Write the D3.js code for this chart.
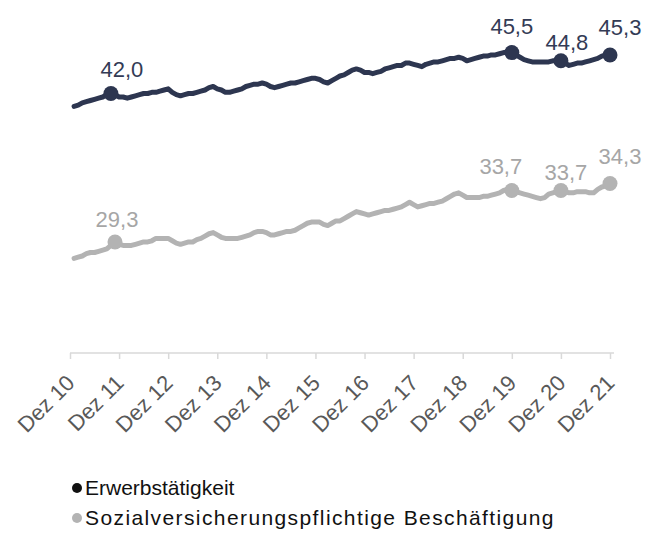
<!DOCTYPE html>
<html>
<head>
<meta charset="utf-8">
<script src="https://cdn.jsdelivr.net/npm/d3@7"></script>
<style>
  body { margin: 0; background: #fff; }
  svg { display: block; font-family: "Liberation Sans", Arial, sans-serif; }
</style>
</head>
<body>
<svg width="654" height="533"></svg>
<script>
// monthly values Jan 11 .. Dez 21 (in Mio.)
const erwerb = [
  40.9, 41.0, 41.2, 41.3, 41.4, 41.5, 41.6, 41.7, 41.9, 42.0, 41.9, 41.7,
  41.7, 41.6, 41.7, 41.8, 41.9, 42.0, 42.0, 42.1, 42.1, 42.2, 42.3, 42.4,
  42.1, 41.9, 41.8, 41.9, 42.0, 42.0, 42.1, 42.2, 42.3, 42.5, 42.6, 42.4,
  42.3, 42.1, 42.1, 42.2, 42.3, 42.4, 42.6, 42.7, 42.8, 42.8, 42.9, 42.8,
  42.6, 42.5, 42.6, 42.7, 42.8, 42.9, 42.9, 43.0, 43.1, 43.2, 43.3, 43.3,
  43.2, 43.0, 42.9, 43.1, 43.3, 43.5, 43.6, 43.8, 44.0, 44.1, 44.0, 43.8,
  43.8, 43.7, 43.8, 43.9, 44.1, 44.2, 44.3, 44.4, 44.4, 44.6, 44.6, 44.5,
  44.4, 44.3, 44.5, 44.6, 44.7, 44.7, 44.8, 44.9, 45.0, 45.0, 45.1, 45.0,
  44.8, 44.9, 45.0, 45.1, 45.2, 45.2, 45.3, 45.3, 45.4, 45.5, 45.5, 45.5,
  45.3, 45.1, 44.9, 44.8, 44.7, 44.7, 44.7, 44.7, 44.7, 44.8, 44.8, 44.8,
  44.6, 44.4, 44.5, 44.6, 44.6, 44.7, 44.8, 44.9, 45.0, 45.2, 45.3, 45.3
];
const svb = [
  27.9, 28.0, 28.1, 28.3, 28.4, 28.4, 28.5, 28.6, 28.7, 29.0, 29.3, 29.1,
  29.0, 29.0, 29.0, 29.1, 29.2, 29.3, 29.3, 29.4, 29.6, 29.6, 29.6, 29.6,
  29.4, 29.2, 29.1, 29.2, 29.3, 29.3, 29.5, 29.6, 29.8, 30.0, 30.1, 29.9,
  29.7, 29.6, 29.6, 29.6, 29.6, 29.7, 29.8, 29.9, 30.1, 30.2, 30.2, 30.1,
  29.9, 29.9, 30.0, 30.1, 30.2, 30.2, 30.3, 30.5, 30.7, 30.9, 31.0, 31.0,
  31.0, 30.8, 30.7, 30.9, 31.1, 31.1, 31.3, 31.5, 31.7, 31.9, 31.8, 31.7,
  31.6, 31.7, 31.8, 31.9, 32.0, 32.0, 32.1, 32.2, 32.3, 32.5, 32.7, 32.5,
  32.3, 32.4, 32.5, 32.6, 32.6, 32.7, 32.8, 33.0, 33.2, 33.4, 33.5, 33.3,
  33.1, 33.1, 33.1, 33.1, 33.2, 33.2, 33.3, 33.4, 33.5, 33.7, 33.8, 33.7,
  33.6, 33.5, 33.4, 33.3, 33.2, 33.1, 33.0, 33.1, 33.4, 33.5, 33.6, 33.7,
  33.6, 33.5, 33.5, 33.6, 33.6, 33.6, 33.5, 33.5, 33.8, 34.0, 34.1, 34.3
];
const tickLabels = ["Dez 10", "Dez 11", "Dez 12", "Dez 13", "Dez 14", "Dez 15",
  "Dez 16", "Dez 17", "Dez 18", "Dez 19", "Dez 20", "Dez 21"];
// labelled months (index into the month count, Dez 10 = 0)
const erwerbMarks = [10, 108, 120, 132];
const svbMarks = [11, 108, 120, 132];
const seriesNames = ["Erwerbstätigkeit", "Sozialversicherungspflichtige Beschäftigung"];

const NAVY = "#2d3650";
const GREY = "#b3b3b3";

const svg = d3.select("svg");

const x = d3.scaleLinear().domain([0, 132]).range([70, 610]);
const y = d3.scaleLinear().domain([19.8, 50]).range([353, 0]);

// axis
const axis = svg.append("g")
  .attr("transform", "translate(0,353)")
  .call(d3.axisBottom(x)
    .tickValues(tickLabels.map((d, k) => k * 12))
    .tickFormat((d, k) => tickLabels[k])
    .tickSize(6)
    .tickSizeOuter(0));
axis.select(".domain").remove();
axis.append("line")
  .attr("x1", 70).attr("x2", 614)
  .attr("stroke", "#d9d9d9").attr("stroke-width", 1.5);
axis.selectAll(".tick line").attr("stroke", "#d9d9d9").attr("stroke-width", 1.5);
axis.selectAll(".tick text")
  .attr("fill", "#595959")
  .attr("font-size", 22)
  .attr("text-anchor", "end")
  .attr("x", 0).attr("y", 0).attr("dy", "0.35em")
  .attr("transform", "translate(0,26) rotate(-45)");

const line = d3.line()
  .x((d, i) => x(i + 1))
  .y(d => y(d));

const fmt = v => d3.format(".1f")(v).replace(".", ",");

// label nudges [dx, dy] from the marker
const erwerbNudge = [[11, -17], [0, -19], [6, -11], [10, -20]];
const svbNudge = [[2, -15], [-11, -17], [5, -11], [10, -20]];

function drawSeries(vals, marks, nudge, color, labelColor) {
  svg.append("path")
    .datum(vals)
    .attr("fill", "none")
    .attr("stroke", color)
    .attr("stroke-width", 5)
    .attr("stroke-linejoin", "round")
    .attr("stroke-linecap", "round")
    .attr("d", line);

  svg.append("g").selectAll("circle")
    .data(marks)
    .enter().append("circle")
      .attr("cx", d => x(d))
      .attr("cy", d => y(vals[d - 1]))
      .attr("r", 7.5)
      .attr("fill", color);

  svg.append("g").selectAll("text")
    .data(marks)
    .enter().append("text")
      .attr("x", (d, k) => x(d) + nudge[k][0])
      .attr("y", (d, k) => y(vals[d - 1]) + nudge[k][1])
      .attr("text-anchor", "middle")
      .attr("font-size", 22)
      .attr("fill", labelColor)
      .text(d => fmt(vals[d - 1]));
}

drawSeries(erwerb, erwerbMarks, erwerbNudge, NAVY, "#333b55");
drawSeries(svb, svbMarks, svbNudge, GREY, "#a6a6a6");

// legend
const legend = svg.append("g").selectAll("g")
  .data(seriesNames)
  .enter().append("g")
    .attr("transform", (d, k) => `translate(77,${488 + k * 30})`);
legend.append("circle")
  .attr("r", 5)
  .attr("fill", (d, k) => k === 0 ? "#111" : GREY);
legend.append("text")
  .attr("x", 8)
  .attr("dy", "0.35em")
  .attr("font-size", 21)
  .attr("letter-spacing", (d, k) => k === 0 ? 0 : 1.4)
  .attr("fill", "#111")
  .text(d => d);
</script>
</body>
</html>
